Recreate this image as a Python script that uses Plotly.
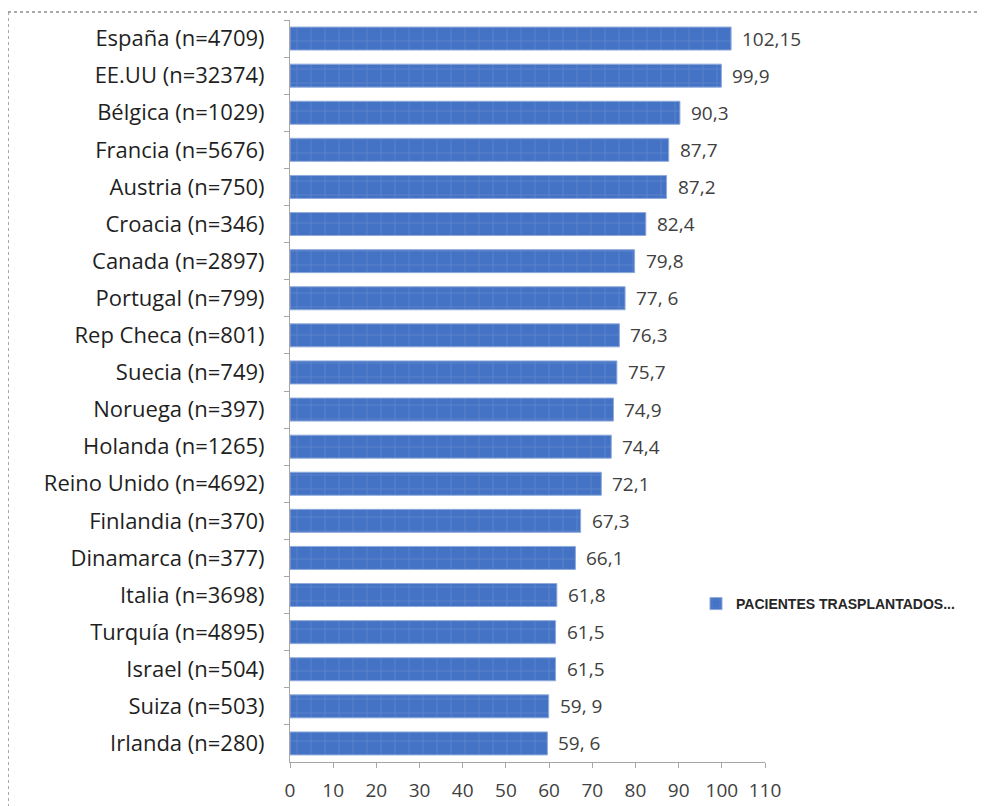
import plotly.graph_objects as go

paises = ["España (n=4709)", "EE.UU (n=32374)", "Bélgica (n=1029)", "Francia (n=5676)",
          "Austria (n=750)", "Croacia (n=346)", "Canada (n=2897)", "Portugal (n=799)",
          "Rep Checa (n=801)", "Suecia (n=749)", "Noruega (n=397)", "Holanda (n=1265)",
          "Reino Unido (n=4692)", "Finlandia (n=370)", "Dinamarca (n=377)", "Italia (n=3698)",
          "Turquía (n=4895)", "Israel (n=504)", "Suiza (n=503)", "Irlanda (n=280)"]
valores = [102.15, 99.9, 90.3, 87.7, 87.2, 82.4, 79.8, 77.6, 76.3, 75.7,
           74.9, 74.4, 72.1, 67.3, 66.1, 61.8, 61.5, 61.5, 59.9, 59.6]
etiquetas = ["102,15", "99,9", "90,3", "87,7", "87,2", "82,4", "79,8", "77, 6", "76,3", "75,7",
             "74,9", "74,4", "72,1", "67,3", "66,1", "61,8", "61,5", "61,5", "59, 9", "59, 6"]
x_ticks = [0, 10, 20, 30, 40, 50, 60, 70, 80, 90, 100, 110]
serie = "PACIENTES TRASPLANTADOS..."

fig = go.Figure()
fig.add_trace(go.Bar(
    y=paises, x=valores, orientation="h", name=serie,
    marker=dict(color="#4472C4", line=dict(color="#8FAADC", width=1),
                pattern=dict(shape="+", fgcolor="#9DB5E3", size=14, solidity=0.06)),
    showlegend=True,
))

for v, p, t in zip(valores, paises, etiquetas):
    fig.add_annotation(x=v, y=p, text=t, showarrow=False, xanchor="left", yanchor="middle",
                       xshift=9, font=dict(family="Open Sans", size=19, color="#404040"))

OFF = 8  # page body margin
W, H = 977, 798
L, R, T, B = 282, 220, 12, 44
pw, ph = W - L - R, H - T - B

def px(xp):
    return (xp - OFF - L) / pw

def py(yp):
    return (H - B - (yp - OFF)) / ph

fig.update_layout(
    width=W, height=H,
    margin=dict(l=L, r=R, t=T, b=B, pad=0, autoexpand=False),
    paper_bgcolor="white", plot_bgcolor="white",
    bargap=0.38,
    font=dict(family="Open Sans", color="#262626"),
    showlegend=True,
    legend=dict(x=px(696), y=py(604), xanchor="left", yanchor="middle",
                font=dict(family="Liberation Sans", size=14, color="#262626", weight="bold"),
                bgcolor="rgba(0,0,0,0)", itemwidth=30),
    xaxis=dict(range=[0, 110], tickvals=x_ticks, showgrid=False, zeroline=False,
               showline=True, linecolor="#A6A6A6", linewidth=1, automargin=False,
               ticks="outside", ticklen=5, tickcolor="#A6A6A6", ticklabelstandoff=6,
               tickfont=dict(family="Open Sans", size=19, color="#404040")),
    yaxis=dict(autorange="reversed", showgrid=False, zeroline=False,
               showline=True, linecolor="#A6A6A6", linewidth=1, automargin=False,
               ticks="outside", ticklen=5, tickcolor="#A6A6A6", tickson="boundaries",
               ticklabelstandoff=20,
               tickfont=dict(family="Open Sans", size=22, color="#1f1f1f")),
    shapes=[
        dict(type="line", xref="paper", yref="paper", x0=px(8), x1=px(1000), y0=py(12), y1=py(12),
             line=dict(color="#8C8C8C", width=1.5, dash="dot")),
        dict(type="line", xref="paper", yref="paper", x0=px(8), x1=px(8), y0=py(12), y1=py(820),
             line=dict(color="#8C8C8C", width=1.5, dash="dot")),
    ],
)

fig.write_html("out.html")
